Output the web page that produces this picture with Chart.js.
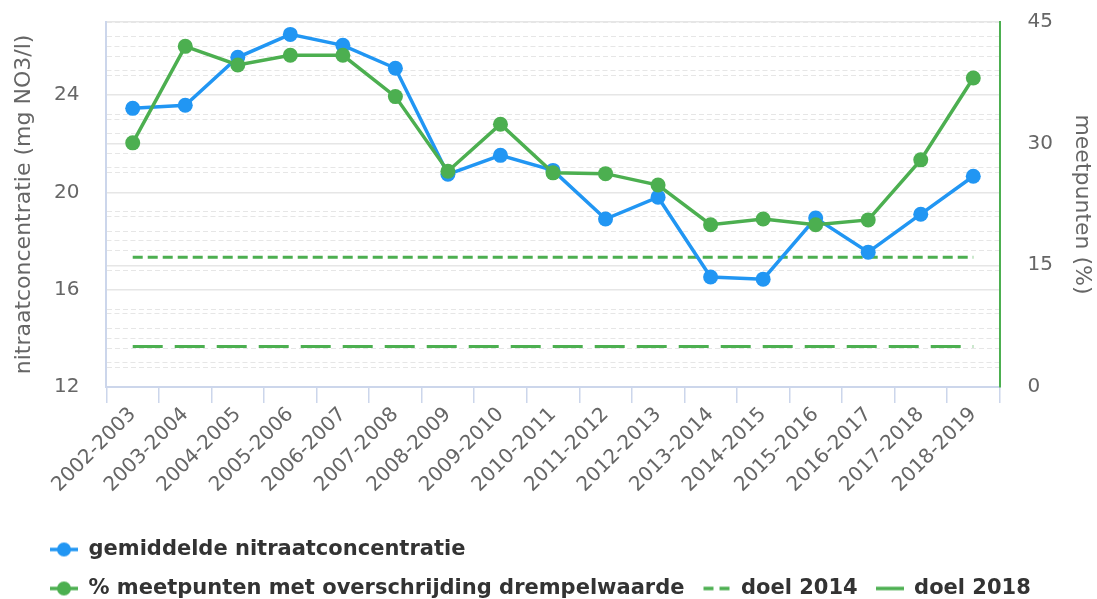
<!DOCTYPE html>
<html>
<head>
<meta charset="utf-8">
<script src="https://cdn.jsdelivr.net/npm/chart.js@4"></script>
<style>
html,body{margin:0;padding:0;background:#fff;}
#wrap{width:1097px;height:599px;}
</style>
</head>
<body>
<div id="wrap"><canvas id="c"></canvas></div>
<script>
const categories = ['2002-2003','2003-2004','2004-2005','2005-2006','2006-2007','2007-2008','2008-2009','2009-2010','2010-2011','2011-2012','2012-2013','2013-2014','2014-2015','2015-2016','2016-2017','2017-2018','2018-2019'];
const nitraat = [23.45, 23.58, 25.55, 26.49, 26.04, 25.1, 20.74, 21.52, 20.9, 18.9, 19.8, 16.52, 16.43, 18.94, 17.54, 19.1, 20.66];
const meetpunten = [30.1, 42.0, 39.7, 40.9, 40.9, 35.8, 26.6, 32.4, 26.4, 26.3, 24.9, 20.0, 20.7, 20.0, 20.6, 28.0, 38.1];
const doel2014 = categories.map(() => 16);
const doel2018 = categories.map(() => 5);
const leftTicks = [12, 16, 20, 24];
const rightTicks = [0, 15, 30, 45];

const BLUE = '#2196F3';
const GREEN = '#4CAF50';
const GRID = '#e6e6e6';
const AXIS = '#ccd6eb';
const TXT = '#666666';
const FONT = 'DejaVu Sans';

function isMajor(v, list){ return list.some(t => Math.abs(t - v) < 1e-6); }

function legendIcon(color, kind){
  const c = document.createElement('canvas');
  c.width = 28; c.height = 16;
  const g = c.getContext('2d');
  g.strokeStyle = color; g.fillStyle = color; g.lineWidth = 3.5;
  if (kind === 'dash') g.setLineDash([10, 6]);
  g.beginPath(); g.moveTo(kind === 'dash' ? 1 : 0, 8); g.lineTo(28, 8); g.stroke();
  if (kind === 'point'){ g.beginPath(); g.arc(14, 8, 7, 0, Math.PI * 2); g.fill(); }
  return c;
}
const icons = [legendIcon(BLUE, 'point'), legendIcon(GREEN, 'point'), legendIcon(GREEN, 'dash'), legendIcon(GREEN, 'line')];

const legendShift = {
  id: 'legendShift',
  afterLayout(chart){
    const lg = chart.legend;
    if (lg){ lg.left += 24; lg.right += 24; lg.top += 24; lg.bottom += 24; }
  }
};

new Chart(document.getElementById('c'), {
  type: 'line',
  data: {
    labels: categories,
    datasets: [
      { label: 'gemiddelde nitraatconcentratie', data: nitraat, yAxisID: 'yL', order: 2,
        borderColor: BLUE, backgroundColor: BLUE, borderWidth: 3.5, pointRadius: 7.5, pointHoverRadius: 7.5,
        pointBackgroundColor: BLUE, pointBorderWidth: 0, tension: 0 },
      { label: '% meetpunten met overschrijding drempelwaarde', data: meetpunten, yAxisID: 'yR', order: 1,
        borderColor: GREEN, backgroundColor: GREEN, borderWidth: 3.5, pointRadius: 7.5, pointHoverRadius: 7.5,
        pointBackgroundColor: GREEN, pointBorderWidth: 0, tension: 0 },
      { label: 'doel 2014', data: doel2014, yAxisID: 'yR', order: 3,
        borderColor: GREEN, backgroundColor: GREEN, borderWidth: 3, borderDash: [10, 5], pointRadius: 0, pointHoverRadius: 0 },
      { label: 'doel 2018', data: doel2018, yAxisID: 'yR', order: 4,
        borderColor: GREEN, backgroundColor: GREEN, borderWidth: 3, borderDash: [30, 12], pointRadius: 0, pointHoverRadius: 0 }
    ]
  },
  options: {
    responsive: true,
    maintainAspectRatio: false,
    animation: false,
    layout: { padding: { left: 8, right: 3, top: 22, bottom: 14 } },
    plugins: {
      tooltip: { enabled: false },
      legend: {
        position: 'bottom',
        align: 'start',
        labels: {
          usePointStyle: true,
          boxHeight: 16,
          pointStyleWidth: 28,
          padding: 18,
          color: '#333333',
          font: { family: FONT, size: 21, weight: 'bold' },
          generateLabels(chart){
            return chart.data.datasets.map((ds, i) => ({
              text: ds.label,
              datasetIndex: i,
              fillStyle: ds.borderColor,
              strokeStyle: ds.borderColor,
              lineWidth: 0,
              pointStyle: icons[i],
              fontColor: '#333333',
              hidden: false
            }));
          }
        }
      }
    },
    scales: {
      x: {
        offset: true,
        grid: { display: true, drawOnChartArea: false, drawTicks: true, tickLength: 16, color: AXIS, offset: true, lineWidth: 1.5 },
        border: { display: true, color: AXIS, width: 2 },
        ticks: { color: TXT, font: { family: FONT, size: 20 }, minRotation: 45, maxRotation: 45, autoSkip: false, padding: 0 }
      },
      yL: {
        position: 'left',
        min: 12, max: 27,
        afterBuildTicks(scale){
          const t = [];
          for (let k = 0; k <= 18; k++) { const v = Math.round((12 + k * 0.8) * 100) / 100; if (v <= 27) t.push({ value: v }); }
          t.push({ value: 27 });
          scale.ticks = t;
        },
        ticks: {
          autoSkip: false,
          color: TXT, font: { family: FONT, size: 20 }, padding: 4,
          callback(v){ return isMajor(v, leftTicks) ? String(v) : ''; }
        },
        grid: {
          drawTicks: true, tickLength: 23, tickColor: 'rgba(0,0,0,0)',
          color: GRID,
          lineWidth(ctx){ return isMajor(ctx.tick.value, leftTicks) ? 1.5 : 1; }
        },
        border: {
          display: true, color: AXIS, width: 2,
          dash(ctx){ return (ctx.tick && isMajor(ctx.tick.value, leftTicks)) ? [] : [5, 3]; }
        },
        title: { display: true, text: 'nitraatconcentratie (mg NO3/l)', color: TXT, font: { family: FONT, size: 22, lineHeight: 1 }, padding: { top: 5, bottom: 15 } }
      },
      yR: {
        position: 'right',
        min: 0, max: 45,
        afterBuildTicks(scale){
          const t = [];
          for (let v = 0; v <= 45; v += 3) t.push({ value: v });
          scale.ticks = t;
        },
        ticks: {
          autoSkip: false,
          color: TXT, font: { family: FONT, size: 20 }, padding: 4,
          callback(v){ return isMajor(v, rightTicks) ? String(v) : ''; }
        },
        grid: {
          drawTicks: true, tickLength: 24, tickColor: 'rgba(0,0,0,0)',
          color: GRID,
          lineWidth(ctx){ return isMajor(ctx.tick.value, rightTicks) ? 1.5 : 1; }
        },
        border: {
          display: true, color: GREEN, width: 2,
          dash(ctx){ return (ctx.tick && isMajor(ctx.tick.value, rightTicks)) ? [] : [5, 3]; }
        },
        title: { display: true, text: 'meetpunten (%)', color: TXT, font: { family: FONT, size: 22, lineHeight: 1 }, padding: { top: 1, bottom: 14 } }
      }
    }
  },
  plugins: [legendShift]
});
</script>
</body>
</html>
